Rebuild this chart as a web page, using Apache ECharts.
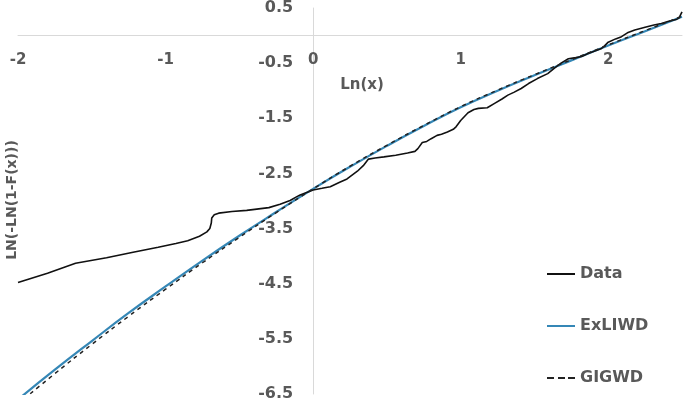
<!DOCTYPE html>
<html>
<head>
<meta charset="utf-8">
<script src="https://cdn.jsdelivr.net/npm/echarts@6/dist/echarts.min.js"></script>
<style>
html,body{margin:0;padding:0;background:#fff;}
#chart{width:685px;height:403px;}
</style>
</head>
<body>
<div id="chart"></div>
<script>
// Empirical data: x = Ln(x), y = LN(-LN(1-F(x)))
var dataX = [-2.0,-1.8,-1.61,-1.4,-1.22,-1.05,-0.93,-0.85,-0.77,-0.72,-0.70,-0.69,-0.687,-0.67,-0.64,-0.55,-0.45,-0.3,-0.224,-0.156,-0.11,-0.088,0,0.06,0.116,0.18,0.23,0.3,0.34,0.375,0.42,0.48,0.56,0.64,0.69,0.71,0.74,0.77,0.8,0.84,0.87,0.91,0.95,0.97,1.0,1.05,1.09,1.12,1.18,1.23,1.28,1.32,1.36,1.41,1.46,1.52,1.59,1.64,1.68,1.73,1.78,1.82,1.86,1.9,1.95,1.97,2.0,2.05,2.09,2.13,2.18,2.25,2.31,2.36,2.41,2.46,2.48,2.5];
var dataY = [-4.48,-4.31,-4.13,-4.03,-3.93,-3.84,-3.77,-3.72,-3.64,-3.56,-3.50,-3.40,-3.31,-3.25,-3.22,-3.19,-3.17,-3.12,-3.06,-2.99,-2.92,-2.89,-2.80,-2.77,-2.74,-2.66,-2.60,-2.46,-2.36,-2.24,-2.22,-2.20,-2.17,-2.13,-2.10,-2.05,-1.94,-1.92,-1.87,-1.81,-1.79,-1.75,-1.70,-1.65,-1.54,-1.40,-1.34,-1.32,-1.31,-1.23,-1.15,-1.08,-1.03,-0.96,-0.87,-0.78,-0.69,-0.58,-0.50,-0.42,-0.40,-0.38,-0.33,-0.29,-0.24,-0.20,-0.12,-0.06,-0.02,0.05,0.10,0.15,0.19,0.22,0.26,0.29,0.32,0.43];
// Fitted model curves
var modelX  = [-2.0,-1.75,-1.5,-1.25,-1.0,-0.75,-0.5,-0.25,0,0.25,0.5,0.75,1.0,1.25,1.5,1.75,2.0,2.25,2.5];
var exliwdY = [-6.60,-6.06,-5.54,-5.03,-4.55,-4.08,-3.63,-3.20,-2.78,-2.38,-2.00,-1.64,-1.30,-1.00,-0.72,-0.45,-0.18,0.08,0.34];
var gigwdY  = [-6.68,-6.13,-5.60,-5.09,-4.60,-4.12,-3.66,-3.21,-2.78,-2.37,-1.99,-1.63,-1.29,-0.99,-0.71,-0.44,-0.17,0.09,0.35];
// Axis settings
var xMin = -2, xMax = 2.5, xStep = 1;
var yMin = -6.5, yMax = 0.5, yStep = 1;

function zip(a, b) { return a.map(function (v, i) { return [v, b[i]]; }); }

var W = 685, H = 403;
var G = {left: 18, right: 3, top: 8, bottom: 9};
var gw = W - G.left - G.right, gh = H - G.top - G.bottom;
// place axes so they cross at the origin (0,0)
var xAxisOffset = -gh * (yMax - 0) / (yMax - yMin);
var yAxisOffset = -gw * (0 - xMin) / (xMax - xMin);

var FONT = 'DejaVu Sans';
var GRAY = '#595959';
var chart = echarts.init(document.getElementById('chart'), null, {renderer: 'canvas'});
chart.setOption({
  animation: false,
  backgroundColor: '#ffffff',
  grid: {left: G.left, right: G.right, top: G.top, bottom: G.bottom, containLabel: false, outerBoundsMode: 'none'},
  xAxis: {
    type: 'value', min: xMin, max: xMax, interval: xStep,
    position: 'top', offset: xAxisOffset,
    axisLine: {onZero: false, lineStyle: {color: '#d9d9d9', width: 1}},
    axisTick: {show: false},
    splitLine: {show: false},
    axisLabel: {
      inside: true, margin: 17, color: GRAY, fontFamily: FONT, fontWeight: 'bold', fontSize: 15,
      formatter: function (v) { return Math.abs(v - Math.round(v)) < 1e-9 ? String(v) : ''; }
    }
  },
  yAxis: {
    type: 'value', min: yMin, max: yMax, interval: yStep,
    position: 'left', offset: yAxisOffset,
    axisLine: {onZero: false, lineStyle: {color: '#d9d9d9', width: 1}},
    axisTick: {show: false},
    splitLine: {show: false},
    axisLabel: {
      margin: 20, color: GRAY, fontFamily: FONT, fontWeight: 'bold', fontSize: 16,
      formatter: function (v) { return v.toFixed(1); }
    }
  },
  legend: {
    orient: 'vertical', left: 542, top: 261, itemGap: 36,
    itemWidth: 28, itemHeight: 2, symbolKeepAspect: false,
    textStyle: {color: GRAY, fontFamily: FONT, fontWeight: 'bold', fontSize: 16},
    data: [
      {name: 'Data', icon: 'rect'},
      {name: 'ExLIWD', icon: 'rect'},
      {name: 'GIGWD', icon: 'path://M0,0h7v2h-7z M11,0h7v2h-7z M21,0h7v2h-7z'}
    ]
  },
  graphic: [
    {type: 'text', x: 362, y: 85, style: {text: 'Ln(x)', fill: GRAY, font: 'bold 15px "DejaVu Sans"', textAlign: 'center', textVerticalAlign: 'middle'}},
    {type: 'text', x: 12, y: 200, rotation: Math.PI / 2, style: {text: 'LN(-LN(1-F(x)))', fill: GRAY, font: 'bold 14px "DejaVu Sans"', textAlign: 'center', textVerticalAlign: 'middle'}}
  ],
  series: [
    {name: 'Data', type: 'line', symbol: 'none', data: zip(dataX, dataY),
      lineStyle: {color: '#111111', width: 1.6}, itemStyle: {color: '#111111'}, z: 3},
    {name: 'ExLIWD', type: 'line', symbol: 'none', smooth: true, data: zip(modelX, exliwdY),
      lineStyle: {color: '#3587b6', width: 2.2}, itemStyle: {color: '#3587b6'}, z: 2},
    {name: 'GIGWD', type: 'line', symbol: 'none', smooth: true, data: zip(modelX, gigwdY),
      lineStyle: {color: '#222222', width: 1.5, type: [4, 4]}, itemStyle: {color: '#222222'}, z: 4}
  ]
});
</script>
</body>
</html>
